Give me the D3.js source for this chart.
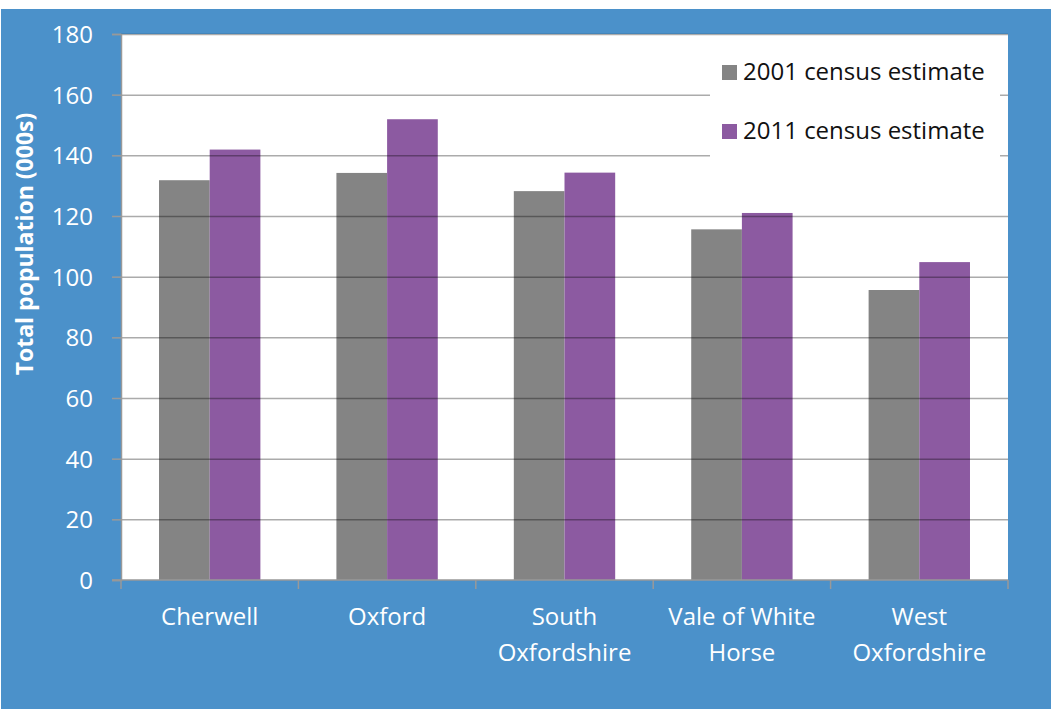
<!DOCTYPE html>
<meta charset="utf-8">

<style>

body {
  margin: 0;
  background: #fff;
}

text {
  font-family: "Open Sans", sans-serif;
}

.tick-label {
  font-size: 24px;
  fill: #fff;
}

.legend text {
  font-size: 24px;
  fill: #111;
}

</style>
<svg width="1051" height="709"></svg>
<script src="https://d3js.org/d3.v7.min.js"></script>
<script>

// districts along the x axis (label lines)
var districts = ["Cherwell", "Oxford", "South Oxfordshire", "Vale of White Horse", "West Oxfordshire"];
var districtLines = [["Cherwell"], ["Oxford"], ["South", "Oxfordshire"], ["Vale of White", "Horse"], ["West", "Oxfordshire"]];

// population, thousands
var series = ["2001 census estimate", "2011 census estimate"];
var pop2001 = [131.8, 134.2, 128.2, 115.6, 95.6];
var pop2011 = [141.9, 151.9, 134.3, 121.0, 104.8];
var yTicks = [0, 20, 40, 60, 80, 100, 120, 140, 160, 180];

var colours = ["#848484", "#8c5aa1"];

var svg = d3.select("svg"),
    width = +svg.attr("width"),
    height = +svg.attr("height");

var plot = {left: 121, right: 1008, top: 34, bottom: 580};

// blue chart background
svg.append("rect")
    .attr("x", 1)
    .attr("y", 9)
    .attr("width", width - 1)
    .attr("height", height - 9)
    .attr("fill", "#4b91ca");

svg.append("rect")
    .attr("x", plot.left)
    .attr("y", plot.top)
    .attr("width", plot.right - plot.left)
    .attr("height", plot.bottom - plot.top)
    .attr("fill", "#fff");

var x0 = d3.scaleBand()
    .domain(districts)
    .range([plot.left, plot.right]);

// gap width 150% like the original
var x1 = d3.scaleBand()
    .domain(series)
    .range([0, x0.bandwidth()])
    .paddingOuter(0.75);

var y = d3.scaleLinear()
    .domain([0, 180])
    .range([plot.bottom, plot.top]);

var rows = districts.map(function(d, i) {
  return {district: d, values: [pop2001[i], pop2011[i]]};
});

var groups = svg.append("g").selectAll("g")
  .data(rows)
  .enter().append("g")
    .attr("transform", function(d) { return "translate(" + x0(d.district) + ",0)"; });

groups.selectAll("rect")
  .data(function(d) { return d.values.map(function(v, j) { return {s: series[j], v: v, j: j}; }); })
  .enter().append("rect")
    .attr("x", function(d) { return x1(d.s); })
    .attr("y", function(d) { return y(d.v); })
    .attr("width", x1.bandwidth())
    .attr("height", function(d) { return plot.bottom - y(d.v); })
    .attr("fill", function(d) { return colours[d.j]; });

// gridlines sit over the bars (they show through in the original)
svg.append("g").selectAll("line")
  .data(yTicks.filter(function(t) { return t > 0; }))
  .enter().append("line")
    .attr("x1", plot.left)
    .attr("x2", plot.right)
    .attr("y1", function(d) { return y(d) + 0.5; })
    .attr("y2", function(d) { return y(d) + 0.5; })
    .attr("stroke", "#000")
    .attr("stroke-opacity", 0.33)
    .attr("stroke-width", 1.5);

// y axis
var yAxis = svg.append("g")
    .attr("transform", "translate(" + plot.left + ",0)")
    .call(d3.axisLeft(y).tickValues(yTicks).tickSize(9).tickPadding(19).tickFormat(d3.format("d")));
yAxis.select(".domain").attr("stroke", "#999").attr("stroke-width", 1.5);
yAxis.selectAll(".tick line").attr("stroke", "#999").attr("stroke-width", 1.5);
yAxis.selectAll(".tick text")
    .attr("class", "tick-label")
    .attr("font-family", null)
    .attr("font-size", null)
    .attr("dy", "0.36em");

// x axis: ticks on band edges, labels in band centres
var edges = districts.map(function(d) { return x0(d); }).concat([plot.right]);
var xAxis = svg.append("g");
xAxis.append("line")
    .attr("x1", plot.left - 9)
    .attr("x2", plot.right)
    .attr("y1", plot.bottom)
    .attr("y2", plot.bottom)
    .attr("stroke", "#999")
    .attr("stroke-width", 1.5);
xAxis.selectAll(".xtick")
  .data(edges)
  .enter().append("line")
    .attr("class", "xtick")
    .attr("x1", function(d) { return d; })
    .attr("x2", function(d) { return d; })
    .attr("y1", plot.bottom)
    .attr("y2", plot.bottom + 9)
    .attr("stroke", "#999")
    .attr("stroke-width", 1.5);

var xLabels = xAxis.selectAll(".xlab")
  .data(districts)
  .enter().append("text")
    .attr("class", "tick-label")
    .attr("text-anchor", "middle")
    .attr("x", function(d) { return x0(d) + x0.bandwidth() / 2; })
    .attr("y", 625);

xLabels.selectAll("tspan")
  .data(function(d, i) { return districtLines[i]; })
  .enter().append("tspan")
    .attr("x", function() { return d3.select(this.parentNode).attr("x"); })
    .attr("dy", function(d, i) { return i ? 36 : 0; })
    .text(function(d) { return d; });

// y axis title
svg.append("text")
    .attr("transform", "translate(33,244) rotate(-90)")
    .attr("text-anchor", "middle")
    .style("font-size", "23px")
    .style("font-weight", "bold")
    .style("fill", "#fff")
    .text("Total population (000s)");

// legend
var legend = svg.append("g").attr("class", "legend");
legend.append("rect")
    .attr("x", 710)
    .attr("y", 44)
    .attr("width", 290)
    .attr("height", 120)
    .attr("fill", "#fff");

var items = legend.selectAll(".item")
  .data(series)
  .enter().append("g")
    .attr("class", "item")
    .attr("transform", function(d, i) { return "translate(722," + (65 + i * 59) + ")"; });

items.append("rect")
    .attr("width", 15)
    .attr("height", 15)
    .attr("fill", function(d, i) { return colours[i]; });

items.append("text")
    .attr("x", 21)
    .attr("y", 15)
    .text(function(d) { return d; });

</script>
